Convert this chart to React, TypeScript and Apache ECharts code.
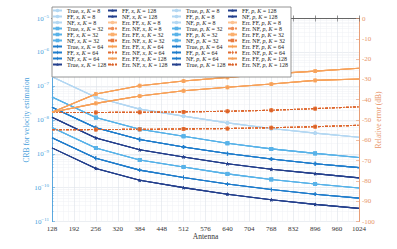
import React, { useEffect, useRef } from "react";
import * as echarts from "echarts";

const antennas = [128, 256, 384, 512, 640, 768, 896, 1024];
const kList = [8, 32, 64, 128];
const models = ["True", "FF", "NF"];

// CRB (left log axis)
const crbX8 = [1.9e-7, 4.7e-8, 2.1e-8, 1.3e-8, 8.2e-9, 5.6e-9, 4.1e-9, 3.1e-9];
const crbX32 = [4.8e-8, 1.18e-8, 5.3e-9, 3.3e-9, 2.05e-9, 1.4e-9, 1.03e-9, 7.8e-10];
const crbX64 = [2.4e-8, 5.9e-9, 2.65e-9, 1.6e-9, 1.02e-9, 7.0e-10, 5.1e-10, 3.9e-10];
const crbX128 = [1.2e-8, 2.95e-9, 1.32e-9, 8.1e-10, 5.1e-10, 3.5e-10, 2.6e-10, 1.95e-10];
const crbP8 = [2.4e-8, 5.9e-9, 2.65e-9, 1.6e-9, 1.02e-9, 7.0e-10, 5.1e-10, 3.9e-10];
const crbP32 = [6.0e-9, 1.48e-9, 6.6e-10, 4.1e-10, 2.56e-10, 1.75e-10, 1.29e-10, 9.8e-11];
const crbP64 = [3.0e-9, 7.4e-10, 3.3e-10, 2.0e-10, 1.28e-10, 8.8e-11, 6.4e-11, 4.9e-11];
const crbP128 = [1.5e-9, 3.7e-10, 1.65e-10, 1.0e-10, 6.4e-11, 4.4e-11, 3.2e-11, 2.45e-11];

// Relative error (dB), right axis
const errFFx = [-46.2, -37.2, -33.1, -30.8, -29.0, -27.3, -25.9, -24.5];
const errFFp = [-46.2, -41.8, -38.2, -35.6, -33.9, -32.3, -30.5, -29.8];
const errNFx = [-46.3, -46.3, -46.2, -46.0, -45.7, -45.2, -44.4, -43.5];
const errNFp = [-54.8, -54.7, -54.6, -54.4, -54.2, -53.8, -53.3, -52.6];

const blueColors = ["#b3d7f2", "#58b2e8", "#1f7ccb", "#233f8c"];
const ffColors = ["#fdc291", "#fbae6c", "#f8a155", "#f5a05a"];
const nfColors = ["#ef8d55", "#e77a40", "#df6a30", "#d95f26"];
const plusPath = "path://M4,0h2v4h4v2h-4v4h-2v-4h-4v-2h4z";
const starPath = "path://M5,0L6.2,3.4L10,3.8L7,6.2L8,10L5,7.8L2,10L3,6.2L0,3.8L3.8,3.4Z";
const kSymbols = ["circle", "rect", plusPath, starPath];

const FONT = "'Liberation Serif', 'DejaVu Serif', serif";

type Item = { name: string; kind: "crb" | "ff" | "nf"; ki: number; data: number[]; param: string };

function buildGroup(param: string, crb: number[][], ff: number[], nf: number[]): Item[] {
  const list: Item[] = [];
  kList.forEach((k, ki) =>
    models.forEach((m) => list.push({ name: `${m}, ${param}, K = ${k}`, kind: "crb", ki, data: crb[ki], param }))
  );
  kList.forEach((k, ki) => {
    list.push({ name: `Err. FF, ${param}, K = ${k}`, kind: "ff", ki, data: ff, param });
    list.push({ name: `Err. NF, ${param}, K = ${k}`, kind: "nf", ki, data: nf, param });
  });
  return list;
}

export default function App() {
  const ref = useRef<HTMLDivElement>(null);
  useEffect(() => {
    if (!ref.current) return;
    const chart = echarts.init(ref.current, null, { renderer: "svg" });
    const items = [
      ...buildGroup("x", [crbX8, crbX32, crbX64, crbX128], errFFx, errNFx),
      ...buildGroup("p", [crbP8, crbP32, crbP64, crbP128], errFFp, errNFp),
    ];
    const last = antennas.length - 1;
    const series = items.map((it) => {
      const color = it.kind === "crb" ? blueColors[it.ki] : it.kind === "ff" ? ffColors[it.ki] : nfColors[it.ki];
      return {
        type: "line",
        name: it.name,
        xAxisIndex: 0,
        yAxisIndex: it.kind === "crb" ? 0 : 1,
        data: antennas.map((a, i) => [a, it.data[i]]),
        symbol: kSymbols[it.ki],
        symbolSize: (_v: any, p: any) => (p.dataIndex === 0 || p.dataIndex === last ? 0 : 3.8),
        showSymbol: true,
        lineStyle: { color, width: 1.1, type: it.kind === "nf" ? [3, 1.5, 1, 1.5] : "solid" },
        itemStyle: { color },
        z: it.param === "p" && it.kind === "crb" && it.ki === 0 ? 1 : 2,
        silent: true,
        emphasis: { disabled: true },
      };
    });
    const names = items.map((i) => i.name);
    const legendLefts = [52, 107, 171, 227];
    const rich = {
      n: { fontFamily: FONT, fontSize: 6, color: "#222", lineHeight: 6.8 },
      i: { fontFamily: FONT, fontSize: 6, color: "#222", fontStyle: "italic", lineHeight: 6.8 },
    };
    const legends = legendLefts.map((left, c) => ({
      data: names.slice(c * 10, c * 10 + 10),
      orient: "vertical",
      left,
      top: 7.5,
      itemGap: 0,
      itemWidth: 9,
      itemHeight: 4.5,
      padding: 0,
      selectedMode: false,
      z: 60,
      formatter: (name: string) => {
        const parts = name.split(", ");
        const k = parts[2].replace("K = ", "");
        return `{n|${parts[0]}, }{i|${parts[1]}}{n|, }{i|K}{n| = ${k}}`;
      },
      textStyle: { fontFamily: FONT, fontSize: 6, color: "#222", rich },
    }));

    const leftColor = "#4a9fdc";
    const rightColor = "#e8956a";
    chart.setOption({
      animation: false,
      backgroundColor: "#ffffff",
      grid: { left: 52, right: 38, top: 18.5, bottom: 27.5, outerBoundsMode: "none" },
      legend: legends,
      graphic: [
        {
          type: "rect",
          z: 50,
          shape: { x: 52, y: 7, width: 239, height: 70 },
          style: { fill: "#ffffff", stroke: "#7a7a7a", lineWidth: 0.8 },
          silent: true,
        },
      ],
      xAxis: [
        {
          type: "value",
          min: 128,
          max: 1024,
          interval: 64,
          name: "Antenna",
          nameLocation: "middle",
          nameGap: 11,
          nameMoveOverlap: false,
          nameTextStyle: { fontFamily: FONT, fontSize: 7.5, color: "#333" },
          axisLine: { lineStyle: { color: "#444", width: 0.8 } },
          axisTick: { inside: true, length: 3, lineStyle: { color: "#444", width: 0.6 } },
          axisLabel: { fontFamily: FONT, fontSize: 7, color: "#333", margin: 4, formatter: (v: number) => String(v) },
          splitLine: { show: true, lineStyle: { color: "#dde3ea", width: 0.6 } },
          minorTick: { show: false, splitNumber: 4 },
          minorSplitLine: { show: true, lineStyle: { color: "#eef1f5", width: 0.5 } },
        },
        {
          type: "value",
          position: "top",
          min: 128,
          max: 1024,
          interval: 64,
          axisLine: { lineStyle: { color: "#666", width: 0.8 } },
          axisTick: { inside: true, length: 3, lineStyle: { color: "#666", width: 0.6 } },
          axisLabel: { show: false },
          splitLine: { show: false },
        },
      ],
      yAxis: [
        {
          type: "log",
          logBase: 10,
          min: 1e-11,
          max: 1e-5,
          splitNumber: 6,
          position: "left",
          name: "CRB for velocity estimation",
          nameLocation: "middle",
          nameGap: 22,
          nameRotate: 90,
          nameMoveOverlap: false,
          nameTextStyle: { fontFamily: FONT, fontSize: 7.5, color: leftColor },
          axisLine: { show: true, lineStyle: { color: leftColor, width: 0.9 } },
          axisTick: { inside: true, length: 3, lineStyle: { color: leftColor, width: 0.6 } },
          minorTick: { show: true, splitNumber: 9, length: 1.5, lineStyle: { color: leftColor, width: 0.5 } },
          axisLabel: {
            margin: 3,
            formatter: (v: number) => {
              const e = Math.round(Math.log10(v));
              return `{b|10}{s|${e < 0 ? "\u2212" + -e : e}}`;
            },
            rich: {
              b: { fontFamily: FONT, fontSize: 7, color: leftColor },
              s: { fontFamily: FONT, fontSize: 5, color: leftColor, padding: [0, 0, 5, 0] },
            },
          },
          splitLine: { show: true, lineStyle: { color: "#dde3ea", width: 0.6 } },
          minorSplitLine: { show: true, lineStyle: { color: "#eef1f5", width: 0.5 } },
        },
        {
          type: "value",
          min: -100,
          max: 0,
          interval: 10,
          position: "right",
          name: "Relative error (dB)",
          nameLocation: "middle",
          nameGap: 15,
          nameRotate: 90,
          nameMoveOverlap: false,
          nameTextStyle: { fontFamily: FONT, fontSize: 7.5, color: rightColor },
          axisLine: { show: true, lineStyle: { color: rightColor, width: 0.9 } },
          axisTick: { show: true, inside: true, length: 3, lineStyle: { color: rightColor, width: 0.6 } },
          axisLabel: { fontFamily: FONT, fontSize: 7, color: rightColor, margin: 3 },
          splitLine: { show: false },
        },
      ],
      series,
    });
    return () => chart.dispose();
  }, []);
  return (
    <div
      ref={ref}
      style={{ position: "fixed", left: 0, top: 0, width: 397, height: 249, background: "#fff" }}
    />
  );
}
